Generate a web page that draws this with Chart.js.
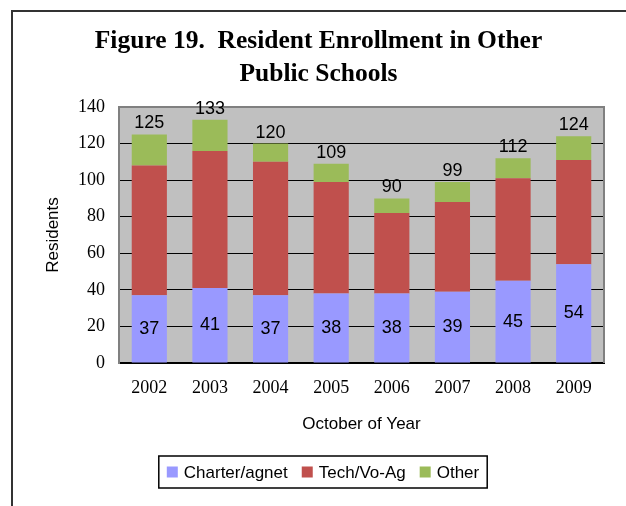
<!DOCTYPE html>
<html>
<head>
<meta charset="utf-8">
<script src="https://cdn.jsdelivr.net/npm/chart.js@4.4.1/dist/chart.umd.min.js"></script>
<style>
    html, body { margin: 0; padding: 0; background: #fff; }
    #wrap { position: relative; width: 626px; height: 506px; overflow: hidden; }
    #frame { position: absolute; left: 11px; top: 10px; width: 640px; height: 520px;
             border-top: 2px solid #333; border-left: 2px solid #333; }
    #chart { position: absolute; left: 0; top: 0; }
</style>
</head>
<body>
<div id="wrap">
    <div id="frame"></div>
    <canvas id="chart" width="626" height="506"></canvas>
</div>
<script>
const years = ['2002', '2003', '2004', '2005', '2006', '2007', '2008', '2009']
const charter = [37, 41, 37, 38, 38, 39, 45, 54]
const techVoAg = [71, 75, 73, 61, 44, 49, 56, 57]
const other = [17, 17, 10, 10, 8, 11, 11, 13]
const yTicks = { min: 0, max: 140, step: 20 }

const serif = "'Liberation Serif', 'Times New Roman', serif"
const sans = "'Liberation Sans', Arial, sans-serif"

// gray plot area with its border
const plotArea = {
    id: 'plotArea',
    beforeDraw(chart) {
        const { ctx, chartArea: a } = chart
        ctx.save()
        ctx.fillStyle = '#c0c0c0'
        ctx.fillRect(a.left, a.top, a.right - a.left, a.bottom - a.top)
        ctx.restore()
    },
    beforeDatasetsDraw(chart) {
        const { ctx, chartArea: a } = chart
        ctx.save()
        ctx.strokeStyle = '#808080'
        ctx.lineWidth = 2
        ctx.beginPath()
        ctx.moveTo(a.left, a.bottom)
        ctx.lineTo(a.left, a.top)
        ctx.lineTo(a.right, a.top)
        ctx.lineTo(a.right, a.bottom)
        ctx.stroke()
        ctx.restore()
    }
}

// charter value inside the bottom segment, total above each stack
const barLabels = {
    id: 'barLabels',
    afterDatasetsDraw(chart) {
        const { ctx } = chart
        const base = chart.getDatasetMeta(0).data
        const top = chart.getDatasetMeta(chart.data.datasets.length - 1).data
        ctx.save()
        ctx.font = '18px ' + sans
        ctx.fillStyle = '#000'
        ctx.textAlign = 'center'
        base.forEach((bar, i) => {
            ctx.textBaseline = 'middle'
            ctx.fillText(chart.data.datasets[0].data[i], bar.x, (bar.y + bar.base) / 2)
            const total = chart.data.datasets.reduce((s, d) => s + d.data[i], 0)
            ctx.textBaseline = 'bottom'
            ctx.fillText(total, top[i].x, top[i].y - 2)
        })
        ctx.restore()
    }
}

// boxed legend under the axis title
const boxLegend = {
    id: 'boxLegend',
    afterDraw(chart) {
        const { ctx } = chart
        const sets = chart.data.datasets
        const box = 11, gap = 6, spacing = 14
        ctx.save()
        ctx.font = '17px ' + sans
        const widths = sets.map(d => box + gap + ctx.measureText(d.label).width)
        const inner = widths.reduce((a, b) => a + b, 0) + spacing * (sets.length - 1)
        const padX = 8
        const cx = 323
        const cy = 472
        let x = cx - inner / 2
        ctx.strokeStyle = '#000'
        ctx.lineWidth = 1.5
        ctx.strokeRect(x - padX, cy - 16, inner + padX * 2, 32)
        ctx.textBaseline = 'middle'
        ctx.textAlign = 'left'
        sets.forEach((d, i) => {
            ctx.fillStyle = d.backgroundColor
            ctx.fillRect(x, cy - box / 2, box, box)
            ctx.fillStyle = '#000'
            ctx.fillText(d.label, x + box + gap, cy + 1)
            x += widths[i] + spacing
        })
        ctx.restore()
    }
}

new Chart(document.getElementById('chart'), {
    type: 'bar',
    data: {
        labels: years,
        datasets: [
            { label: 'Charter/agnet', data: charter, backgroundColor: '#9999ff' },
            { label: 'Tech/Vo-Ag', data: techVoAg, backgroundColor: '#c0504d' },
            { label: 'Other', data: other, backgroundColor: '#9bbb59' }
        ]
    },
    options: {
        responsive: false,
        animation: false,
        events: [],
        layout: { padding: { left: 33, right: 22, top: 0, bottom: 51 } },
        datasets: { bar: { barPercentage: 0.58, categoryPercentage: 1 } },
        plugins: {
            legend: { display: false },
            tooltip: { enabled: false },
            title: {
                display: true,
                text: ['Figure 19.  Resident Enrollment in Other', 'Public Schools'],
                color: '#000',
                font: { family: serif, size: 25.5, weight: 'bold', lineHeight: '33px' },
                padding: { top: 25, bottom: 16 }
            }
        },
        scales: {
            x: {
                stacked: true,
                grid: { display: false, drawTicks: false },
                border: { color: '#000', width: 2 },
                ticks: { color: '#000', padding: 14, font: { family: serif, size: 18 } },
                title: {
                    display: true,
                    text: 'October of Year',
                    color: '#000',
                    font: { family: sans, size: 17 },
                    padding: { top: 2, bottom: 20 }
                }
            },
            y: {
                stacked: true,
                min: yTicks.min,
                max: yTicks.max,
                afterFit(scale) { scale.width = 86 },
                grid: {
                    drawTicks: false,
                    color: ctx => ctx.tick && ctx.tick.value === yTicks.max ? '#808080' : '#000'
                },
                border: { color: '#808080', width: 2 },
                ticks: {
                    stepSize: yTicks.step,
                    color: '#000',
                    padding: 14,
                    font: { family: serif, size: 18 }
                },
                title: {
                    display: true,
                    text: 'Residents',
                    color: '#000',
                    font: { family: sans, size: 17 },
                    padding: { top: 10, bottom: 0 }
                }
            }
        }
    },
    plugins: [plotArea, barLabels, boxLegend]
})
</script>
</body>
</html>
